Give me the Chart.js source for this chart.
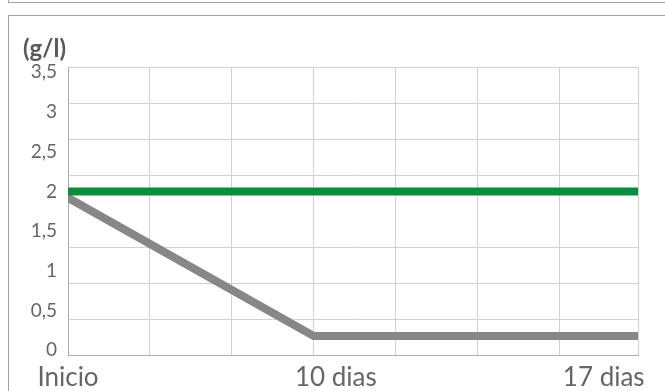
<!DOCTYPE html>
<html lang="pt">
<head>
  <meta charset="UTF-8" />
  <title>(g/l)</title>
  <script src="https://cdn.jsdelivr.net/npm/chart.js@4.4.1/dist/chart.umd.min.js"></script>
  <style>
    *{box-sizing:border-box;margin:0;padding:0;}
    html,body{width:665px;height:391px;overflow:hidden;background:#fff;}
    #prev{position:absolute;left:8px;top:-10px;width:700px;height:13px;border:1px solid #a3a3a3;}
    #frame{position:absolute;left:8px;top:15px;width:700px;height:400px;border:1px solid #a3a3a3;}
    #chart{position:absolute;left:9px;top:16px;}
  </style>
</head>
<body>
  <div id="prev"></div>
  <div id="frame"></div>
  <canvas id="chart" width="656" height="375"></canvas>
  <script>
  /* ---- dados ---- */
  const xLabels=['Inicio','10 dias','17 dias'];
  const xLabelPos=[0,1,2];                       // posições das etiquetas
  const xGridTicks=[0,1,2,3,4,5,6,6.96];         // linhas verticais
  const yLabelTicks=[0,0.5,1,1.5,2,2.5,3,3.5];   // etiquetas do eixo y
  const yGridTicks=[0,0.5,1,1.5,2.5,3,3.5,4];    // linhas horizontais
  const greenX=[0,6.96], greenY=[2,2];
  const grayX=[0,3,6.96], grayY=[1.92,0.18,0.18];

  const gridColor='#cfd3d5', borderColor='#a9aeb1', textColor='#666';
  const pts=(xs,ys)=>xs.map((x,i)=>({x,y:ys[i]}));
  const setTicks=arr=>axis=>{axis.ticks=arr.map(v=>({value:v}));};

  function draw(){
    Chart.defaults.font.family='Lato';
    new Chart(document.getElementById('chart'),{
      type:'line',
      data:{datasets:[
        {data:pts(greenX,greenY),borderColor:'#0a8d3c',borderWidth:8,pointRadius:0,borderCapStyle:'round',borderJoinStyle:'round',xAxisID:'x',yAxisID:'y'},
        {data:pts(grayX,grayY),borderColor:'#878787',borderWidth:8,pointRadius:0,borderCapStyle:'round',borderJoinStyle:'round',xAxisID:'x',yAxisID:'y'}
      ]},
      options:{
        responsive:false,animation:false,
        layout:{autoPadding:false,padding:{left:14,right:27,top:0,bottom:0}},
        plugins:{
          legend:{display:false},tooltip:{enabled:false},
          title:{display:true,text:'(g/l)',align:'start',color:'#5a5a5a',
            font:{size:24,weight:'bold'},padding:{top:19,bottom:4}}
        },
        scales:{
          x:{type:'linear',position:'bottom',min:0,max:6.96,weight:0,
            afterBuildTicks:setTicks(xGridTicks),afterFit:s=>{s.height=0;},
            ticks:{display:false},grid:{color:gridColor,drawTicks:false},
            border:{display:true,color:borderColor}},
          xl:{type:'linear',position:'bottom',min:0,max:2.128,weight:1,
            afterBuildTicks:setTicks(xLabelPos),afterFit:s=>{s.height=36;},
            grid:{display:false,drawTicks:false},border:{display:false},
            ticks:{autoSkip:false,maxRotation:0,padding:7,color:textColor,font:{size:26},
              callback:(v,i)=>xLabels[i]}},
          yg:{type:'linear',position:'left',min:0,max:4,weight:0,
            afterBuildTicks:setTicks(yGridTicks),afterFit:s=>{s.width=0;},
            ticks:{display:false},grid:{color:gridColor,drawTicks:false},
            border:{display:true,color:borderColor}},
          y:{type:'linear',position:'left',min:-0.059,max:3.557,weight:1,
            afterBuildTicks:setTicks(yLabelTicks),afterFit:s=>{s.width=45;},
            grid:{display:false,drawTicks:false},border:{display:false},
            ticks:{autoSkip:false,padding:11,color:textColor,font:{size:19},
              callback:v=>String(v).replace('.',',')}}
        }
      }
    });
  }
  if(document.fonts&&document.fonts.load){
    Promise.all([document.fonts.load('26px Lato'),document.fonts.load('bold 24px Lato')]).then(draw,draw);
  }else draw();
  </script>
</body>
</html>
